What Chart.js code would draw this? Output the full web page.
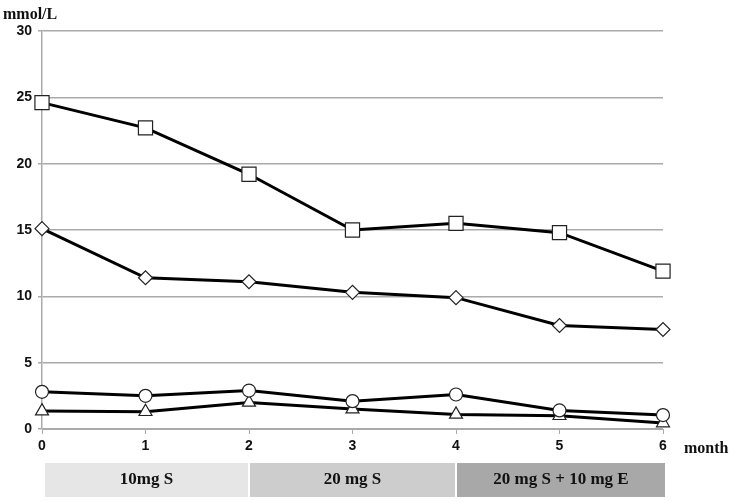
<!DOCTYPE html>
<html>
<head>
    <script src="https://cdn.jsdelivr.net/npm/chart.js@4.4.0/dist/chart.umd.min.js"></script>
</head>
<style>
    body { margin: 0; background: #fff; }
    .wrap { width: 735px; height: 502px; position: relative; }
</style>
<body>
    <div class="wrap">
        <canvas id="myChart" width="735" height="502"></canvas>
    </div>
</body>
<script>
    var months = [0, 1, 2, 3, 4, 5, 6];
    var squareVals = [24.6, 22.7, 19.2, 15.0, 15.5, 14.8, 11.9];
    var diamondVals = [15.1, 11.4, 11.1, 10.3, 9.9, 7.8, 7.5];
    var circleVals = [2.8, 2.5, 2.9, 2.1, 2.6, 1.4, 1.05];
    var triangleVals = [1.35, 1.3, 2.0, 1.5, 1.1, 1.0, 0.45];

    var yTicks = [0, 5, 10, 15, 20, 25, 30];
    var bandLabels = ['10mg S', '20 mg S', '20 mg S + 10 mg E'];
    var bandStarts = [0, 2, 4];
    var bandEnds = [2, 4, 6];
    var bandColors = ['#e6e6e6', '#cdcdcd', '#a8a8a8'];

    function points(vals) {
        return months.map(function (m, i) { return { x: m, y: vals[i] }; });
    }

    function series(vals, shape, r) {
        return {
            data: points(vals),
            borderColor: '#000',
            borderWidth: 3,
            pointStyle: shape,
            pointRadius: r,
            pointBackgroundColor: '#fff',
            pointBorderColor: '#222',
            pointBorderWidth: 1.2,
            clip: false,
            tension: 0
        };
    }

    // extra texts and the treatment bands under the axis
    var extras = {
        id: 'extras',
        afterDraw: function (chart) {
            var ctx = chart.ctx;
            var x = chart.scales.x;
            ctx.save();
            for (var i = 0; i < bandLabels.length; i++) {
                var x0 = x.getPixelForValue(bandStarts[i]) + (i == 0 ? 3 : 1);
                var x1 = x.getPixelForValue(bandEnds[i]) - 1 + (i == 2 ? 3 : 0);
                ctx.fillStyle = bandColors[i];
                ctx.fillRect(x0, 463, x1 - x0, 34);
                ctx.fillStyle = '#111';
                ctx.font = 'bold 17px "Liberation Serif"';
                ctx.textAlign = 'center';
                ctx.textBaseline = 'middle';
                ctx.fillText(bandLabels[i], (x0 + x1) / 2, 480);
            }
            ctx.font = 'bold 16px "Liberation Serif"';
            ctx.textAlign = 'left';
            ctx.textBaseline = 'alphabetic';
            ctx.fillText('mmol/L', 3, 19);
            ctx.fillText('month', 684, 453);
            ctx.restore();
        }
    };

    new Chart(document.getElementById('myChart'), {
        type: 'line',
        data: {
            datasets: [
                series(squareVals, 'rect', 10),
                series(diamondVals, 'rectRot', 7),
                series(circleVals, 'circle', 6.5),
                series(triangleVals, 'triangle', 7.5)
            ]
        },
        plugins: [extras],
        options: {
            responsive: false,
            animation: false,
            layout: { padding: { top: 31, right: 72, bottom: 0, left: 0 } },
            plugins: { legend: { display: false }, tooltip: { enabled: false } },
            scales: {
                x: {
                    type: 'linear',
                    min: 0,
                    max: 6,
                    afterFit: function (s) { s.height = 73; },
                    ticks: {
                        stepSize: 1,
                        color: '#111',
                        padding: 4,
                        font: { family: '"Liberation Sans"', size: 14, weight: 'bold' }
                    },
                    grid: { drawOnChartArea: false, tickLength: 5, color: '#aaa' },
                    border: { color: '#aaa', width: 1 }
                },
                y: {
                    min: 0,
                    max: 30,
                    afterFit: function (s) { s.width = 42; },
                    afterBuildTicks: function (s) { s.ticks = yTicks.map(function (v) { return { value: v }; }); },
                    ticks: {
                        color: '#111',
                        padding: 6,
                        font: { family: '"Liberation Sans"', size: 14, weight: 'bold' }
                    },
                    grid: { color: '#aaa', tickLength: 4, lineWidth: 1.5 },
                    border: { color: '#aaa', width: 1.5 }
                }
            }
        }
    });
</script>
</html>
